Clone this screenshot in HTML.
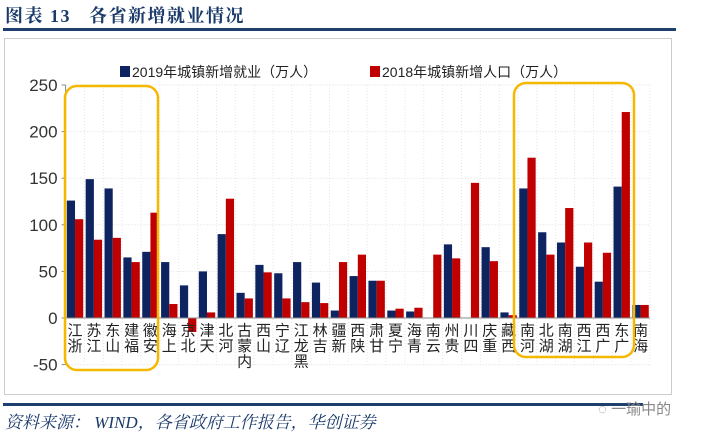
<!DOCTYPE html>
<html><head><meta charset="utf-8">
<style>
html,body{margin:0;padding:0;background:#fff;}
body{width:706px;height:443px;position:relative;overflow:hidden;font-family:"Liberation Sans","Noto Sans CJK SC",sans-serif;}
</style></head>
<body>
<div style="position:absolute;left:5px;top:2px;font-family:'Liberation Serif','Noto Serif CJK SC',serif;font-weight:bold;font-size:18px;color:#1a3a6a;letter-spacing:1.5px;">图表 13&nbsp;&nbsp;&nbsp;各省新增就业情况</div>
<div style="position:absolute;left:3px;top:28px;width:673px;height:3px;background:#1d3f6e;"></div>
<svg id="chart" width="706" height="443" style="position:absolute;left:0;top:0;" xmlns="http://www.w3.org/2000/svg"></svg>
<div style="position:absolute;left:3px;top:403px;width:640px;height:3px;background:#1d3f6e;"></div>
<div style="position:absolute;left:5px;top:408px;font-family:'Liberation Serif','Noto Serif CJK SC',serif;font-style:italic;font-size:17px;color:#1a3a6a;">资料来源： WIND，各省政府工作报告，华创证券</div>
<div style="position:absolute;left:598px;top:398px;font-size:15px;color:#888;">◌ 一瑜中的</div>
<script>
const categories=["浙江","江苏","山东","福建","安徽","上海","北京","天津","河北","内蒙古","山西","辽宁","黑龙江","吉林","新疆","陕西","甘肃","宁夏","青海","云南","贵州","四川","重庆","西藏","河南","湖北","湖南","江西","广西","广东","海南"];
const jobs2019=[126,149,139,65,71,60,35,50,90,27,57,48,60,38,8,45,40,8,7,0,79,0,76,6,139,92,81,55,39,141,14];
const pop2018=[106,84,86,60,113,15,-15,6,128,21,49,21,17,16,60,68,40,10,11,68,64,145,61,3,172,68,118,81,70,221,14];
const yTicks=[250,200,150,100,50,0,-50];
const svg=document.getElementById('chart');
const NS='http://www.w3.org/2000/svg';
function mk(t,a,p){const e=document.createElementNS(NS,t);for(const k in a)e.setAttribute(k,a[k]);(p||svg).appendChild(e);return e;}
const x0=65.6,x1=650,y0=318,pxPer=46.6/50;
const slot=(x1-x0)/categories.length;
function yS(v){return y0-v*pxPer;}
function xS(i){return x0+slot*i;}
const frame=mk('rect',{x:4.5,y:38.5,width:667,height:356,fill:'#fff',stroke:'#ccc'});


yTicks.forEach(t=>{
 const g=mk('line',{x1:x0,x2:x1,y1:yS(t),y2:yS(t),stroke:'#ddd','stroke-dasharray':'1,2'});
 
 
 const tk=mk('line',{x1:x0-4,x2:x0,y1:yS(t),y2:yS(t),stroke:'#888'});
 
 
 const tx=mk('text',{x:x0-8,y:yS(t)+6,'text-anchor':'end','font-size':'17',fill:'#333'});
 tx.textContent=t;
 
 
});
for(let i=0;i<=categories.length;i++){
 const g=mk('line',{x1:xS(i),x2:xS(i),y1:yS(250),y2:yS(-50),stroke:'#e4e4e4','stroke-dasharray':'1,2'});
 
 
}
const yax=mk('line',{x1:x0,x2:x0,y1:yS(250),y2:yS(-50),stroke:'#888'});


const bw=8.2;
categories.forEach((c,i)=>{
 const cx=xS(i)+slot/2;
 const v1=jobs2019[i],v2=pop2018[i];
 const b1=mk('rect',{x:cx-bw,y:Math.min(yS(v1),y0),width:bw,height:Math.abs(yS(v1)-y0),fill:'#0e2461'});
 
 
 const b2=mk('rect',{x:cx,y:Math.min(yS(v2),y0),width:bw,height:Math.abs(yS(v2)-y0),fill:'#c00000'});
 
 
 const chars=[...c];
 const n=chars.length;
 const t=mk('text',{x:cx,y:0,'text-anchor':'middle','font-size':'15',fill:'#222'});
 
 
 chars.forEach((ch,j)=>{
  const s=mk('tspan',{x:cx,y:y0+4+(n-1-j)*15.5+13.5},t);
  s.textContent=ch;
 });
});
const xax=mk('line',{x1:x0,x2:x1,y1:y0,y2:y0,stroke:'#888'});


const h1=mk('rect',{x:65,y:86,width:93,height:284,rx:12,fill:'none',stroke:'#f5b800','stroke-width':2.5});


const h2=mk('rect',{x:514,y:83,width:120,height:274,rx:12,fill:'none',stroke:'#f5b800','stroke-width':2.5});


const l1=mk('rect',{x:120,y:66,width:10,height:11,fill:'#0e2461'});


const lt1=mk('text',{x:132,y:77,'font-size':'14',fill:'#222'});
lt1.textContent='2019年城镇新增就业（万人）';


const l2=mk('rect',{x:370,y:66,width:10,height:11,fill:'#c00000'});


const lt2=mk('text',{x:382,y:77,'font-size':'14',fill:'#222'});
lt2.textContent='2018年城镇新增人口（万人）';


</script>
</body></html>
